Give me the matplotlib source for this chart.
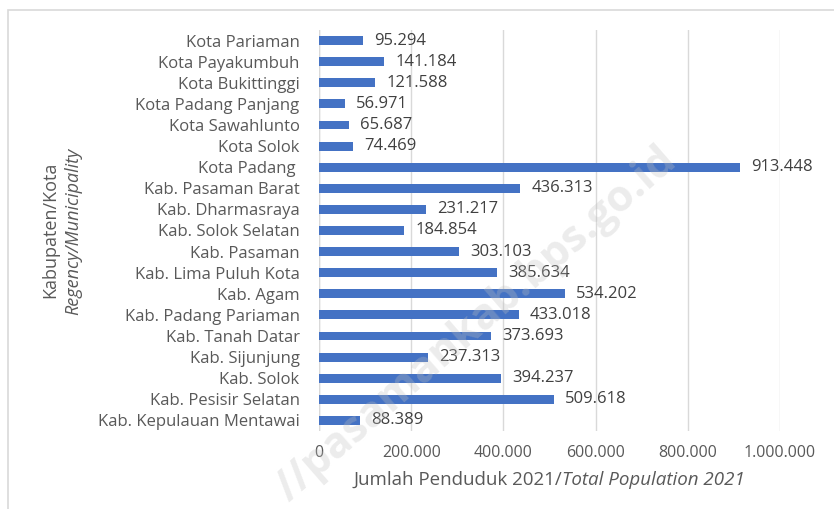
import matplotlib
matplotlib.use("Agg")
import matplotlib.pyplot as plt
from matplotlib.patches import Rectangle
from matplotlib.ticker import FuncFormatter

categories = ["Kota Pariaman", "Kota Payakumbuh", "Kota Bukittinggi", "Kota Padang Panjang",
              "Kota Sawahlunto", "Kota Solok", "Kota Padang ", "Kab. Pasaman Barat",
              "Kab. Dharmasraya", "Kab. Solok Selatan", "Kab. Pasaman", "Kab. Lima Puluh Kota",
              "Kab. Agam", "Kab. Padang Pariaman", "Kab. Tanah Datar", "Kab. Sijunjung",
              "Kab. Solok", "Kab. Pesisir Selatan", "Kab. Kepulauan Mentawai"]
values = [95294, 141184, 121588, 56971, 65687, 74469, 913448, 436313, 231217, 184854,
          303103, 385634, 534202, 433018, 373693, 237313, 394237, 509618, 88389]
xticks = [0, 200000, 400000, 600000, 800000, 1000000]

plt.rcParams['font.family'] = ['Open Sans', 'DejaVu Sans']
txt = '#595959'

def fmt(v):
    return f"{int(v):,}".replace(",", ".")

fig = plt.figure(figsize=(8.34, 5.09), dpi=100)
fig.patches.append(Rectangle((8/834, -0.1), 1.2, 1 - 10/509 + 0.1, transform=fig.transFigure,
                             fill=False, edgecolor='#d9d9d9', linewidth=1.2))
ax = fig.add_axes([319/834, 1 - 431/509, (780 - 319)/834, (431 - 30)/509])

y = list(range(len(categories)))
ax.barh(y, values, height=0.42, color='#4472C4', zorder=3)
for yi, v in zip(y, values):
    ax.text(v + 24000, yi, fmt(v), va='center', ha='left', fontsize=12, color='#404040', zorder=4)

ax.set_ylim(len(categories) - 0.5, -0.5)
ax.set_xlim(0, 1000000)
ax.set_xticks(xticks)
ax.xaxis.set_major_formatter(FuncFormatter(lambda v, p: fmt(v)))
ax.set_yticks(y)
ax.set_yticklabels(categories)
ax.tick_params(axis='both', length=0, labelsize=11.5, colors=txt)
ax.tick_params(axis='y', labelsize=12, pad=14)
ax.tick_params(axis='x', pad=10)
ax.grid(axis='x', color='#d9d9d9', linewidth=1, zorder=0)
for s in ax.spines.values():
    s.set_visible(False)
ax.axvline(0, color='#d9d9d9', linewidth=1, zorder=2)

# x-axis title: upright part + italic part, centred together
part1 = "Jumlah Penduduk 2021/"
part2 = "Total Population 2021"
yl = 1 - 480/509
t1 = fig.text(0, yl, part1, ha='left', va='center', fontsize=13.5, color=txt)
t2 = fig.text(0, yl, part2, ha='left', va='center', fontsize=13.5, color=txt, style='italic')
fig.canvas.draw()
r = fig.canvas.get_renderer()
w1 = t1.get_window_extent(r).width / fig.bbox.width
w2 = t2.get_window_extent(r).width / fig.bbox.width
cx = 549.5/834
x0 = cx - (w1 + w2) / 2
t1.set_x(x0)
t2.set_x(x0 + w1)

fig.text(50/834, 1 - 230/509, "Kabupaten/Kota", rotation=90, ha='center', va='center', fontsize=13, color=txt)
fig.text(73/834, 1 - 231/509, "Regency/Municipality", rotation=90, ha='center', va='center', fontsize=13,
         color=txt, style='italic')

fig.text(476/834, 1 - 324/509, "//pasamankab.bps.go.id", rotation=41, ha='center', va='center',
         fontsize=31, fontweight='bold', color='#c0c0c0', alpha=0.3, zorder=10)

fig.savefig("out.png", dpi=100)
